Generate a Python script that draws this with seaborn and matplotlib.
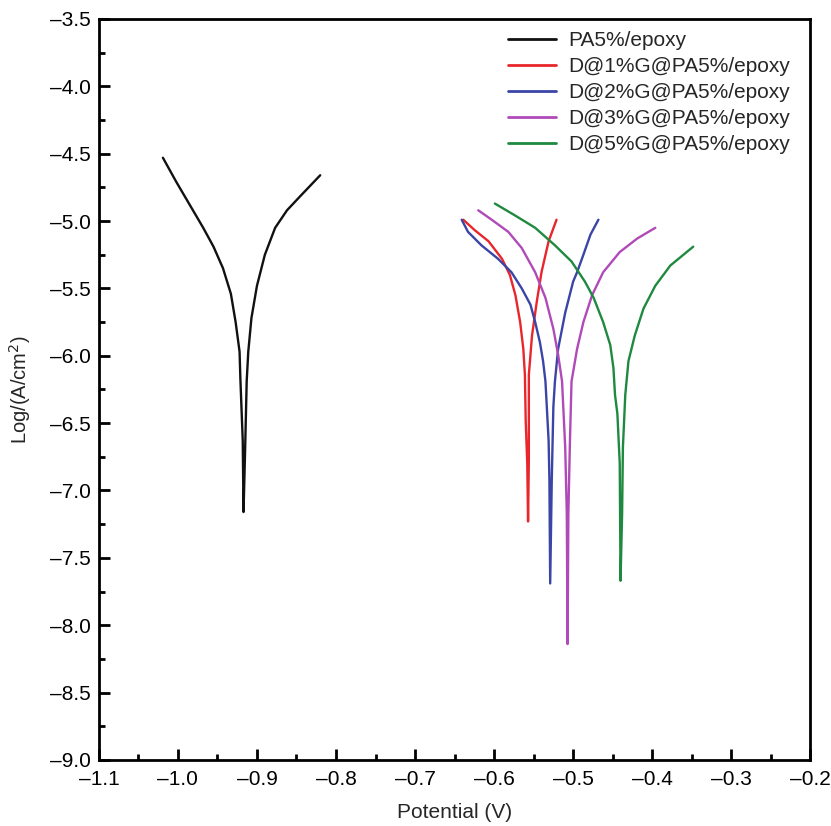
import matplotlib
matplotlib.use("Agg")
import matplotlib.pyplot as plt
from matplotlib.ticker import MultipleLocator
import pandas as pd
import seaborn as sns

# Tafel curves: cathodic branch down to the spike, then anodic branch up
labels = ['PA5%/epoxy', 'D@1%G@PA5%/epoxy', 'D@2%G@PA5%/epoxy',
          'D@3%G@PA5%/epoxy', 'D@5%G@PA5%/epoxy']
colors = ['#111111', '#e8262c', '#3a45a6', '#b04ab8', '#1f8a3f']

pa_E = [-1.019, -1.002, -0.985, -0.968, -0.955, -0.943, -0.933, -0.927, -0.922, -0.921,
        -0.918, -0.917,
        -0.915, -0.913, -0.911, -0.907, -0.900, -0.890, -0.877, -0.862, -0.846, -0.820]
pa_I = [-4.53, -4.71, -4.88, -5.05, -5.19, -5.35, -5.54, -5.75, -5.97, -6.17,
        -6.63, -7.16,
        -6.70, -6.19, -5.97, -5.72, -5.48, -5.25, -5.05, -4.92, -4.82, -4.66]

g1_E = [-0.639, -0.624, -0.607, -0.590, -0.580, -0.573, -0.567, -0.563, -0.561, -0.560,
        -0.558, -0.557,
        -0.556, -0.556, -0.552, -0.546, -0.540, -0.531, -0.521]
g1_I = [-4.99, -5.07, -5.15, -5.28, -5.40, -5.55, -5.75, -5.95, -6.14, -6.48,
        -6.80, -7.23,
        -6.77, -6.14, -5.85, -5.60, -5.38, -5.15, -4.99]

g2_E = [-0.641, -0.633, -0.616, -0.595, -0.578, -0.565, -0.554, -0.548, -0.542, -0.538,
        -0.535, -0.531, -0.530, -0.529,
        -0.527, -0.525, -0.523, -0.519, -0.510, -0.500, -0.495, -0.487, -0.478, -0.468]
g2_I = [-4.99, -5.08, -5.18, -5.28, -5.38, -5.50, -5.62, -5.75, -5.90, -6.04,
        -6.19, -6.63, -6.92, -7.69,
        -6.92, -6.38, -6.19, -5.95, -5.68, -5.45, -5.38, -5.25, -5.10, -4.99]

g3_E = [-0.620, -0.603, -0.582, -0.565, -0.548, -0.535, -0.525, -0.519, -0.514, -0.510,
        -0.508, -0.507,
        -0.506, -0.504, -0.502, -0.495, -0.487, -0.476, -0.462, -0.441, -0.419, -0.396]
g3_I = [-4.92, -4.99, -5.08, -5.20, -5.38, -5.57, -5.80, -5.99, -6.19, -6.68,
        -7.17, -8.14,
        -7.17, -6.63, -6.19, -5.95, -5.75, -5.55, -5.38, -5.23, -5.13, -5.05]

g5_E = [-0.599, -0.573, -0.548, -0.523, -0.502, -0.485, -0.474, -0.462, -0.453, -0.449,
        -0.447, -0.444, -0.441, -0.440,
        -0.438, -0.437, -0.434, -0.430, -0.422, -0.411, -0.396, -0.377, -0.348]
g5_I = [-4.87, -4.96, -5.05, -5.18, -5.30, -5.45, -5.57, -5.75, -5.92, -6.09,
        -6.29, -6.43, -6.80, -7.67,
        -7.17, -6.68, -6.29, -6.04, -5.85, -5.65, -5.48, -5.33, -5.19]

series = [(pa_E, pa_I), (g1_E, g1_I), (g2_E, g2_I), (g3_E, g3_I), (g5_E, g5_I)]
frames = []
for lab, (e, i) in zip(labels, series):
    frames.append(pd.DataFrame({'Potential': e, 'LogI': i, 'Sample': lab}))
df = pd.concat(frames, ignore_index=True)

sns.set_style('ticks')
plt.rcParams['font.family'] = ['Liberation Sans', 'DejaVu Sans']

fig = plt.figure(figsize=(8.31, 8.26), dpi=100)
ax = fig.add_axes([0.119, 0.080, 0.856, 0.897])

sns.lineplot(data=df, x='Potential', y='LogI', hue='Sample', hue_order=labels,
             palette=colors, sort=False, estimator=None, linewidth=1.7, ax=ax)

ax.set_xlim(-1.1, -0.2)
ax.set_ylim(-9.0, -3.5)
ax.xaxis.set_major_locator(MultipleLocator(0.1))
ax.xaxis.set_minor_locator(MultipleLocator(0.05))
ax.yaxis.set_major_locator(MultipleLocator(0.5))
ax.yaxis.set_minor_locator(MultipleLocator(0.25))
fmt = plt.FuncFormatter(lambda v, p: f'{v:.1f}'.replace('-', '\u2013'))
ax.xaxis.set_major_formatter(fmt)
ax.yaxis.set_major_formatter(fmt)
ax.tick_params(which='both', direction='in', width=2, labelsize=15, colors='black')
ax.tick_params(which='major', length=8)
ax.tick_params(which='minor', length=4)
ax.tick_params(axis='x', pad=7)
ax.tick_params(axis='y', pad=6)
for s in ax.spines.values():
    s.set_linewidth(2)
    s.set_color('black')

ax.set_xlabel('Potential (V)', fontsize=15, labelpad=10)
ax.set_ylabel('Log/(A/cm$^2$)', fontsize=14.5, labelpad=12)

leg = ax.legend(loc='upper right', frameon=False, fontsize=15, handlelength=2.3,
                handletextpad=0.6, labelspacing=0.33, borderaxespad=0.2,
                bbox_to_anchor=(0.99, 1.0))
for ln in leg.get_lines():
    ln.set_linewidth(2)

fig.savefig('out.png', dpi=100)
